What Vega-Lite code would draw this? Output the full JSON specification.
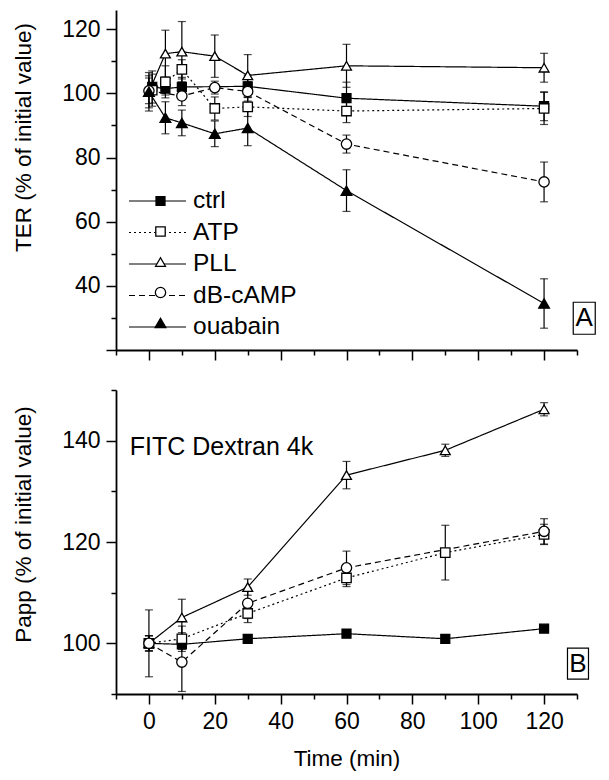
{
  "$schema": "https://vega.github.io/schema/vega-lite/v6.json",
  "padding": {"left": 12, "top": 10, "right": 5, "bottom": 5},
  "spacing": 28,
  "config": {
    "font": "Liberation Sans",
    "view": {"stroke": null},
    "axis": {
      "grid": false,
      "labelFont": "Liberation Sans",
      "titleFont": "Liberation Sans",
      "labelFontSize": 23,
      "titleFontSize": 22.5,
      "titleFontWeight": "normal",
      "labelColor": "black",
      "titleColor": "black",
      "domainColor": "black",
      "tickColor": "black",
      "domainWidth": 1.8,
      "tickWidth": 1.5,
      "labelPadding": 6
    }
  },
  "datasets": {
    "ter": [
      {"series": "ctrl", "time": 1, "value": 102, "err": 5},
      {"series": "ctrl", "time": 5, "value": 101.5, "err": 2},
      {"series": "ctrl", "time": 10, "value": 102, "err": 3},
      {"series": "ctrl", "time": 30, "value": 102.2, "err": 3.5},
      {"series": "ctrl", "time": 60, "value": 98.5, "err": 5},
      {"series": "ctrl", "time": 120, "value": 96, "err": 4.5},
      {"series": "ATP", "time": 1, "value": 101, "err": 5},
      {"series": "ATP", "time": 5, "value": 103.6, "err": 5},
      {"series": "ATP", "time": 10, "value": 107.5, "err": 3},
      {"series": "ATP", "time": 20, "value": 95.3, "err": 3.6},
      {"series": "ATP", "time": 30, "value": 95.8, "err": 3},
      {"series": "ATP", "time": 60, "value": 94.5, "err": 3.6},
      {"series": "ATP", "time": 120, "value": 95.3, "err": 5},
      {"series": "PLL", "time": 0, "value": 100.5, "err": 5},
      {"series": "PLL", "time": 5, "value": 112.4, "err": 7.3},
      {"series": "PLL", "time": 10, "value": 113, "err": 9.4},
      {"series": "PLL", "time": 20, "value": 111.6, "err": 6.6},
      {"series": "PLL", "time": 30, "value": 105.6, "err": 6.5},
      {"series": "PLL", "time": 60, "value": 108.6, "err": 6.7},
      {"series": "PLL", "time": 120, "value": 108, "err": 4.5},
      {"series": "dB-cAMP", "time": 0, "value": 100.8, "err": 4},
      {"series": "dB-cAMP", "time": 10, "value": 99.2, "err": 3},
      {"series": "dB-cAMP", "time": 20, "value": 101.8, "err": 2},
      {"series": "dB-cAMP", "time": 30, "value": 100.6, "err": 3},
      {"series": "dB-cAMP", "time": 60, "value": 84.2, "err": 2.8},
      {"series": "dB-cAMP", "time": 120, "value": 72.4, "err": 6.2},
      {"series": "ouabain", "time": 0, "value": 100.5, "err": 6},
      {"series": "ouabain", "time": 5, "value": 92.4, "err": 5},
      {"series": "ouabain", "time": 10, "value": 90.8, "err": 4},
      {"series": "ouabain", "time": 20, "value": 87.4, "err": 4},
      {"series": "ouabain", "time": 30, "value": 89.2, "err": 5.5},
      {"series": "ouabain", "time": 60, "value": 69.7, "err": 6.5},
      {"series": "ouabain", "time": 120, "value": 34.5, "err": 7.7}
    ],
    "papp": [
      {"series": "ctrl", "time": 0, "value": 100, "err": 1.5},
      {"series": "ctrl", "time": 10, "value": 99.8, "err": 1},
      {"series": "ctrl", "time": 30, "value": 100.9, "err": 0.6},
      {"series": "ctrl", "time": 60, "value": 101.9, "err": 0.6},
      {"series": "ctrl", "time": 90, "value": 100.9, "err": 0.6},
      {"series": "ctrl", "time": 120, "value": 102.9, "err": 0.6},
      {"series": "ATP", "time": 0, "value": 100, "err": 1.5},
      {"series": "ATP", "time": 10, "value": 100.9, "err": 2.5},
      {"series": "ATP", "time": 30, "value": 105.9, "err": 1.8},
      {"series": "ATP", "time": 60, "value": 112.9, "err": 1.7},
      {"series": "ATP", "time": 90, "value": 117.9, "err": 5.4},
      {"series": "ATP", "time": 120, "value": 121.5, "err": 2},
      {"series": "PLL", "time": 0, "value": 100, "err": 1.5},
      {"series": "PLL", "time": 10, "value": 105.1, "err": 3.6},
      {"series": "PLL", "time": 30, "value": 111.1, "err": 1.6},
      {"series": "PLL", "time": 60, "value": 133.2, "err": 2.7},
      {"series": "PLL", "time": 90, "value": 138.1, "err": 1.2},
      {"series": "PLL", "time": 120, "value": 146.2, "err": 1.3},
      {"series": "dB-cAMP", "time": 0, "value": 100, "err": 6.6},
      {"series": "dB-cAMP", "time": 10, "value": 96.3, "err": 5.8},
      {"series": "dB-cAMP", "time": 30, "value": 107.9, "err": 3},
      {"series": "dB-cAMP", "time": 60, "value": 114.9, "err": 3.3},
      {"series": "dB-cAMP", "time": 120, "value": 122.1, "err": 2.5}
    ],
    "tagA": [{"label": "A"}],
    "tagB": [{"label": "B"}],
    "note": [{"label": "FITC Dextran 4k"}]
  },
  "resolve": {"scale": {"strokeDash": "independent", "shape": "independent", "fill": "independent", "size": "independent"}},
  "vconcat": [
    {
      "width": 461,
      "height": 340,
      "layer": [
        {
          "data": {"name": "ter"},
          "encoding": {
            "x": {
              "field": "time", "type": "quantitative",
              "scale": {"domain": [-10, 130], "nice": false, "zero": false},
              "axis": {
                "values": [-10, 0, 10, 20, 30, 40, 50, 60, 70, 80, 90, 100, 110, 120, 130],
                "labels": false, "title": null,
                "tickSize": {"condition": {"test": "datum.value % 20 === 0", "value": 10}, "value": 5}
              }
            },
            "y": {
              "field": "value", "type": "quantitative",
              "scale": {"domain": [20, 126], "nice": false, "zero": false},
              "axis": {
                "title": "TER (% of initial value)",
                "values": [20, 30, 40, 50, 60, 70, 80, 90, 100, 110, 120],
                "labelExpr": "datum.value % 20 === 0 && datum.value >= 40 ? datum.label : ''",
                "tickSize": {"condition": {"test": "datum.value % 20 === 0", "value": 10}, "value": 5},
                "titlePadding": 26,
                "titleY": 127
              }
            }
          },
          "layer": [
            {
              "mark": {"type": "line", "color": "black", "strokeWidth": 1.2},
              "encoding": {
                "strokeDash": {
                  "field": "series", "type": "nominal",
                  "sort": ["ctrl", "ATP", "PLL", "dB-cAMP", "ouabain"],
                  "scale": {"range": [[1, 0], [2, 3], [1, 0], [6, 4], [1, 0]]},
                  "legend": {
                    "orient": "none", "legendX": 12, "legendY": 179, "title": null,
                    "symbolType": "stroke", "symbolSize": 3249, "symbolStrokeColor": "black",
                    "symbolStrokeWidth": 1.2, "labelFontSize": 24.5, "labelColor": "black",
                    "labelFont": "Liberation Sans", "labelOffset": 6, "padding": 0,
                    "clipHeight": 24, "rowPadding": 6.5
                  }
                }
              }
            },
            {
              "mark": {"type": "errorbar", "ticks": true, "size": 8, "thickness": 1.2, "color": "black"},
              "encoding": {"yError": {"field": "err"}}
            },
            {
              "mark": {"type": "point", "filled": true, "stroke": "black", "strokeWidth": 1.3, "opacity": 1},
              "encoding": {
                "shape": {
                  "field": "series", "type": "nominal",
                  "scale": {"domain": ["ctrl", "ATP", "PLL", "dB-cAMP", "ouabain"], "range": ["square", "square", "triangle-up", "circle", "triangle-up"]},
                  "legend": {
                    "orient": "none", "legendX": 38, "legendY": 179, "title": null,
                    "labelExpr": "''", "symbolStrokeColor": "black", "symbolStrokeWidth": 1.3,
                    "padding": 0, "clipHeight": 24, "rowPadding": 6.5
                  }
                },
                "fill": {
                  "field": "series", "type": "nominal",
                  "scale": {"domain": ["ctrl", "ATP", "PLL", "dB-cAMP", "ouabain"], "range": ["black", "white", "white", "white", "black"]}
                },
                "size": {
                  "field": "series", "type": "ordinal",
                  "scale": {"domain": ["ctrl", "ATP", "PLL", "dB-cAMP", "ouabain"], "range": [80, 115, 200, 130, 200]}
                }
              }
            }
          ]
        },
        {
          "data": {"name": "tagA"},
          "encoding": {
            "x": {
              "datum": 132.2, "type": "quantitative",
              "scale": {"domain": [-10, 130], "nice": false, "zero": false},
              "axis": {
                "values": [-10, 0, 10, 20, 30, 40, 50, 60, 70, 80, 90, 100, 110, 120, 130],
                "labels": false, "title": null,
                "tickSize": {"condition": {"test": "datum.value % 20 === 0", "value": 10}, "value": 5}
              }
            },
            "y": {
              "datum": 29.9, "type": "quantitative",
              "scale": {"domain": [20, 126], "nice": false, "zero": false},
              "axis": {
                "title": "TER (% of initial value)",
                "values": [20, 30, 40, 50, 60, 70, 80, 90, 100, 110, 120],
                "labelExpr": "datum.value % 20 === 0 && datum.value >= 40 ? datum.label : ''",
                "tickSize": {"condition": {"test": "datum.value % 20 === 0", "value": 10}, "value": 5},
                "titlePadding": 26,
                "titleY": 127
              }
            }
          },
          "layer": [
            {
              "mark": {"type": "point", "shape": "M-0.6875,-1H0.6875V1H-0.6875Z", "size": 1024, "stroke": "black", "strokeWidth": 1.2, "fill": "white", "filled": true, "opacity": 1}
            },
            {
              "mark": {"type": "text", "fontSize": 26, "font": "Liberation Sans", "align": "center", "baseline": "middle", "color": "black"},
              "encoding": {"text": {"field": "label", "type": "nominal"}}
            }
          ]
        }
      ]
    },
    {
      "width": 461,
      "height": 304,
      "layer": [
        {
          "data": {"name": "papp"},
          "encoding": {
            "x": {
              "field": "time", "type": "quantitative",
              "scale": {"domain": [-10, 130], "nice": false, "zero": false},
              "axis": {
                "values": [-10, 0, 10, 20, 30, 40, 50, 60, 70, 80, 90, 100, 110, 120, 130],
                "labelExpr": "datum.value % 20 === 0 && datum.value >= 0 ? datum.label : ''",
                "title": "Time (min)", "titlePadding": 14,
                "tickSize": {"condition": {"test": "datum.value % 20 === 0", "value": 10}, "value": 5}
              }
            },
            "y": {
              "field": "value", "type": "quantitative",
              "scale": {"domain": [90, 150], "nice": false, "zero": false},
              "axis": {
                "title": "Papp (% of initial value)",
                "values": [90, 100, 110, 120, 130, 140, 150],
                "labelExpr": "datum.value % 20 === 0 ? datum.label : ''",
                "tickSize": {"condition": {"test": "datum.value % 20 === 0", "value": 10}, "value": 5},
                "titlePadding": 26,
                "titleY": 134
              }
            }
          },
          "layer": [
            {
              "mark": {"type": "line", "color": "black", "strokeWidth": 1.2},
              "encoding": {
                "strokeDash": {
                  "field": "series", "type": "nominal",
                  "sort": ["ctrl", "ATP", "PLL", "dB-cAMP", "ouabain"],
                  "scale": {"range": [[1, 0], [2, 3], [1, 0], [6, 4], [1, 0]]},
                  "legend": null
                }
              }
            },
            {
              "mark": {"type": "errorbar", "ticks": true, "size": 8, "thickness": 1.2, "color": "black"},
              "encoding": {"yError": {"field": "err"}}
            },
            {
              "mark": {"type": "point", "filled": true, "stroke": "black", "strokeWidth": 1.3, "opacity": 1},
              "encoding": {
                "shape": {
                  "field": "series", "type": "nominal",
                  "scale": {"domain": ["ctrl", "ATP", "PLL", "dB-cAMP", "ouabain"], "range": ["square", "square", "triangle-up", "circle", "triangle-up"]},
                  "legend": null
                },
                "fill": {
                  "field": "series", "type": "nominal",
                  "scale": {"domain": ["ctrl", "ATP", "PLL", "dB-cAMP", "ouabain"], "range": ["black", "white", "white", "white", "black"]},
                  "legend": null
                },
                "size": {
                  "field": "series", "type": "ordinal",
                  "scale": {"domain": ["ctrl", "ATP", "PLL", "dB-cAMP", "ouabain"], "range": [80, 115, 200, 130, 200]},
                  "legend": null
                }
              }
            }
          ]
        },
        {
          "data": {"name": "tagB"},
          "encoding": {
            "x": {
              "datum": 130.3, "type": "quantitative",
              "scale": {"domain": [-10, 130], "nice": false, "zero": false},
              "axis": {
                "values": [-10, 0, 10, 20, 30, 40, 50, 60, 70, 80, 90, 100, 110, 120, 130],
                "labelExpr": "datum.value % 20 === 0 && datum.value >= 0 ? datum.label : ''",
                "title": "Time (min)", "titlePadding": 14,
                "tickSize": {"condition": {"test": "datum.value % 20 === 0", "value": 10}, "value": 5}
              }
            },
            "y": {
              "datum": 96, "type": "quantitative",
              "scale": {"domain": [90, 150], "nice": false, "zero": false},
              "axis": {
                "title": "Papp (% of initial value)",
                "values": [90, 100, 110, 120, 130, 140, 150],
                "labelExpr": "datum.value % 20 === 0 ? datum.label : ''",
                "tickSize": {"condition": {"test": "datum.value % 20 === 0", "value": 10}, "value": 5},
                "titlePadding": 26,
                "titleY": 134
              }
            }
          },
          "layer": [
            {
              "mark": {"type": "point", "shape": "M-0.6774,-1H0.6774V1H-0.6774Z", "size": 961, "stroke": "black", "strokeWidth": 1.2, "fill": "white", "filled": true, "opacity": 1}
            },
            {
              "mark": {"type": "text", "fontSize": 26, "font": "Liberation Sans", "align": "center", "baseline": "middle", "color": "black"},
              "encoding": {"text": {"field": "label", "type": "nominal"}}
            }
          ]
        },
        {
          "data": {"name": "note"},
          "mark": {"type": "text", "fontSize": 25, "font": "Liberation Sans", "align": "left", "baseline": "middle", "color": "black"},
          "encoding": {
            "x": {
              "datum": -5.8, "type": "quantitative",
              "scale": {"domain": [-10, 130], "nice": false, "zero": false},
              "axis": {
                "values": [-10, 0, 10, 20, 30, 40, 50, 60, 70, 80, 90, 100, 110, 120, 130],
                "labelExpr": "datum.value % 20 === 0 && datum.value >= 0 ? datum.label : ''",
                "title": "Time (min)", "titlePadding": 14,
                "tickSize": {"condition": {"test": "datum.value % 20 === 0", "value": 10}, "value": 5}
              }
            },
            "y": {
              "datum": 138.8, "type": "quantitative",
              "scale": {"domain": [90, 150], "nice": false, "zero": false},
              "axis": {
                "title": "Papp (% of initial value)",
                "values": [90, 100, 110, 120, 130, 140, 150],
                "labelExpr": "datum.value % 20 === 0 ? datum.label : ''",
                "tickSize": {"condition": {"test": "datum.value % 20 === 0", "value": 10}, "value": 5},
                "titlePadding": 26,
                "titleY": 134
              }
            },
            "text": {"field": "label", "type": "nominal"}
          }
        }
      ]
    }
  ]
}
